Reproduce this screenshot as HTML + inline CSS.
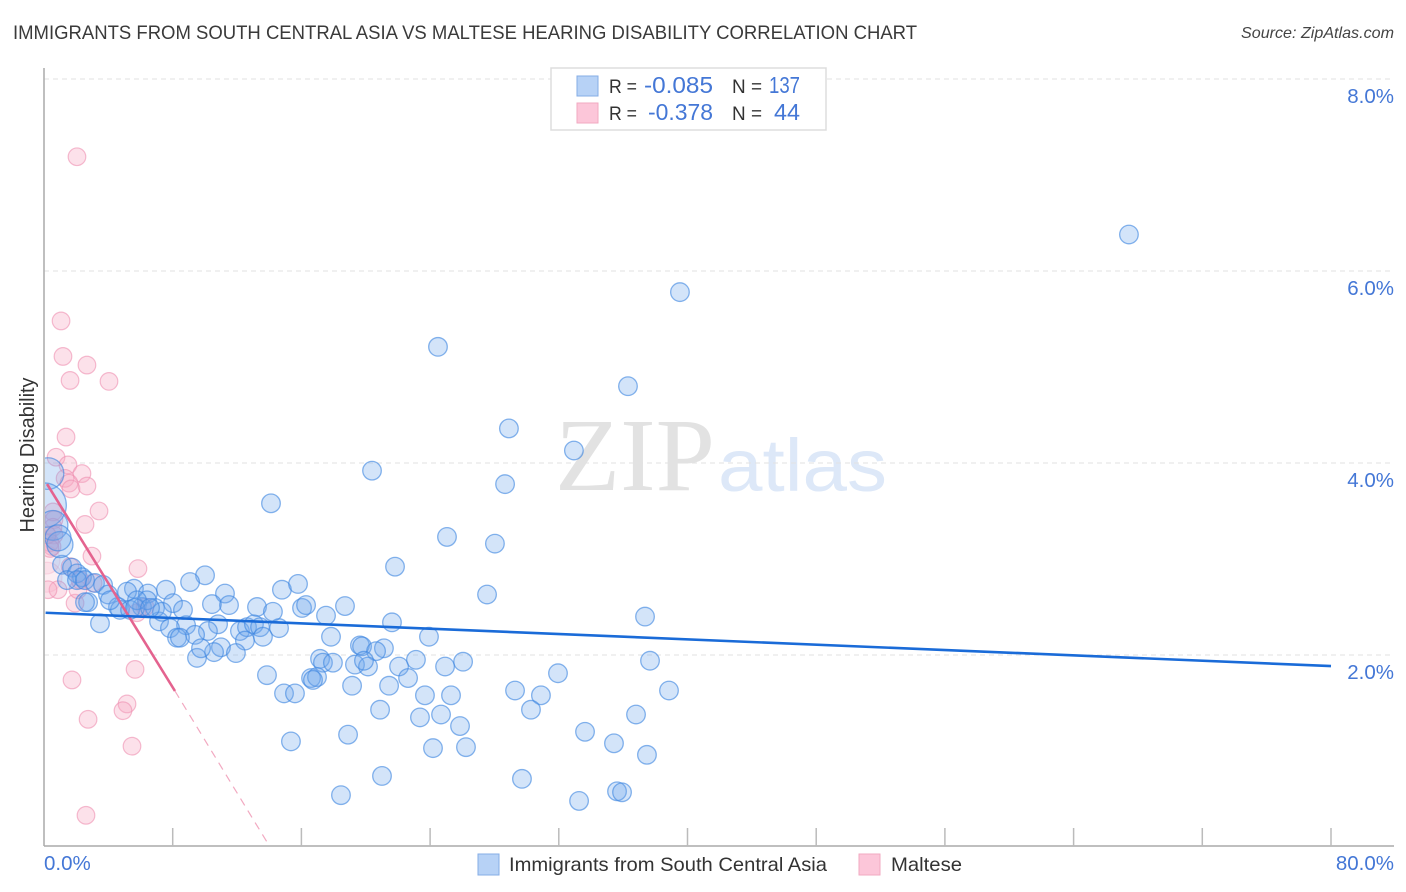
<!DOCTYPE html>
<html lang="en">
<head>
<meta charset="utf-8">
<title>Immigrants from South Central Asia vs Maltese Hearing Disability Correlation Chart</title>
<style>
html,body{margin:0;padding:0;background:#fff;width:1406px;height:892px;overflow:hidden}
svg{display:block;font-family:"Liberation Sans",sans-serif}
</style>
</head>
<body>
<svg id="chart" xmlns="http://www.w3.org/2000/svg" width="1406" height="892" viewBox="0 0 1406 892">
  <defs><clipPath id="plot-clip"><rect x="45" y="60" width="1349" height="786"/></clipPath></defs>
  <text x="13" y="39" font-size="19.5" fill="#3a3a3a" textLength="904" lengthAdjust="spacingAndGlyphs">IMMIGRANTS FROM SOUTH CENTRAL ASIA VS MALTESE HEARING DISABILITY CORRELATION CHART</text>
  <text x="1241" y="38" font-size="16" font-style="italic" fill="#444" textLength="153" lengthAdjust="spacingAndGlyphs">Source: ZipAtlas.com</text>
  <text x="555" y="490" font-family="'Liberation Serif',serif" font-size="104" fill="#e2e2e2" textLength="160" lengthAdjust="spacingAndGlyphs">ZIP</text>
  <text x="718" y="491" font-size="74" fill="#dde8f8" textLength="169" lengthAdjust="spacingAndGlyphs">atlas</text>
  <g id="grid"></g>
  <g id="marks" clip-path="url(#plot-clip)"></g>
  <g id="axes"></g>
  <text transform="translate(34,455) rotate(-90)" font-size="20" fill="#333" text-anchor="middle" textLength="155" lengthAdjust="spacingAndGlyphs">Hearing Disability</text>

  <g>
    <rect x="551" y="68" width="275" height="62" fill="#fff" stroke="#ddd" stroke-width="1.5"/>
    <rect x="577" y="76" width="21" height="20" fill="#b7d2f6" stroke="#85ade6" stroke-width="1"/>
    <rect x="577" y="103" width="21" height="20" fill="#fcc6d9" stroke="#f2a9c1" stroke-width="1"/>
    <text x="609" y="93" font-size="19.5" fill="#333" textLength="28" lengthAdjust="spacingAndGlyphs">R =</text>
    <text x="644" y="93" font-size="23" fill="#4477d6" textLength="69" lengthAdjust="spacingAndGlyphs">-0.085</text>
    <text x="732" y="93" font-size="19.5" fill="#333" textLength="30" lengthAdjust="spacingAndGlyphs">N =</text>
    <text x="769" y="93" font-size="23" fill="#4477d6" textLength="31" lengthAdjust="spacingAndGlyphs">137</text>
    <text x="609" y="120" font-size="19.5" fill="#333" textLength="28" lengthAdjust="spacingAndGlyphs">R =</text>
    <text x="648" y="120" font-size="23" fill="#4477d6" textLength="65" lengthAdjust="spacingAndGlyphs">-0.378</text>
    <text x="732" y="120" font-size="19.5" fill="#333" textLength="30" lengthAdjust="spacingAndGlyphs">N =</text>
    <text x="774" y="120" font-size="23" fill="#4477d6" textLength="26" lengthAdjust="spacingAndGlyphs">44</text>
  </g>

  <g>
    <rect x="478" y="854" width="21" height="21" fill="#b7d2f6" stroke="#85ade6" stroke-width="1"/>
    <text x="509" y="871" font-size="19.5" fill="#333" textLength="318" lengthAdjust="spacingAndGlyphs">Immigrants from South Central Asia</text>
    <rect x="859" y="854" width="21" height="21" fill="#fcc6d9" stroke="#f2a9c1" stroke-width="1"/>
    <text x="891" y="871" font-size="19.5" fill="#333" textLength="71" lengthAdjust="spacingAndGlyphs">Maltese</text>
  </g>
</svg>
<script>
const yTicks = [2, 4, 6, 8];
const yTickLabels = ["2.0%", "4.0%", "6.0%", "8.0%"];
const xTicks = [0, 8, 16, 24, 32, 40, 48, 56, 64, 72, 80];
const xEndLabels = ["0.0%", "80.0%"];
const blueTrend = [[0.1, 2.44], [80, 1.885]];
const pinkTrendSolid = [[0.19, 3.78], [8.14, 1.625]];
const pinkTrendDashed = [[8.14, 1.625], [14.05, 0.0]];
const bluePoints = [
[67.44,6.38],[39.53,5.78],[24.49,5.21],[36.30,4.80],[28.90,4.36],[32.94,4.13],[20.39,3.92],[28.66,3.78],[14.11,3.58],[25.05,3.23],[28.03,3.16],[21.82,2.92],[27.54,2.63],[37.36,2.40],
[10.01,2.83],[9.08,2.76],[11.25,2.64],[14.79,2.68],[15.79,2.74],[10.44,2.53],[11.50,2.52],[13.24,2.50],[16.04,2.49],[16.29,2.52],[18.71,2.51],[14.23,2.45],[17.53,2.41],[21.63,2.34],[14.61,2.28],
[7.58,2.68],[5.59,2.69],[5.16,2.66],[6.46,2.64],[8.02,2.54],[8.64,2.47],[7.15,2.35],[8.83,2.31],[10.82,2.32],[7.83,2.28],[10.19,2.25],[9.39,2.21],[8.27,2.18],[8.45,2.18],[12.18,2.25],[12.62,2.29],[13.05,2.32],[13.43,2.29],[13.61,2.19],[12.49,2.15],[17.84,2.19],[23.93,2.19],[11.00,2.08],[11.93,2.02],[10.57,2.03],[9.51,1.97],[9.76,2.07],
[19.64,2.10],[19.77,2.09],[21.13,2.07],[20.64,2.04],[17.16,1.96],[17.34,1.92],[17.96,1.92],[19.33,1.90],[20.14,1.88],[19.89,1.94],[23.12,1.95],[22.07,1.88],[26.05,1.93],[24.93,1.88],[37.67,1.94],[31.95,1.81],[13.86,1.79],[16.60,1.76],[16.97,1.77],[16.72,1.74],[22.63,1.76],[19.15,1.68],[21.45,1.68],[14.92,1.60],[15.60,1.60],[23.68,1.58],[25.30,1.58],[29.28,1.63],[30.89,1.58],[38.85,1.63],[30.27,1.43],[20.89,1.43],[23.37,1.35],[24.68,1.38],[36.80,1.38],[25.86,1.26],[33.63,1.20],[15.35,1.10],[18.90,1.17],[35.43,1.08],[24.18,1.03],[26.23,1.04],[37.48,0.96],[21.01,0.74],[29.71,0.71],[18.46,0.54],[33.26,0.48],[35.62,0.58],[35.93,0.57],
[1.12,2.94],[1.74,2.91],[2.05,2.85],[2.36,2.81],[1.43,2.78],[2.05,2.78],[2.55,2.78],[3.17,2.75],[3.67,2.73],[3.98,2.63],[2.74,2.55],[2.55,2.55],[3.48,2.33],[4.60,2.50],[4.72,2.47],[4.10,2.57],[6.09,2.50],[6.90,2.49],[6.40,2.57],[7.33,2.45],[5.35,2.47],[5.78,2.57],[5.66,2.49],[6.59,2.49],
[0.25,3.89,1.7],[0.00,3.56,2.4],[0.56,3.35,1.6],[0.99,3.15,1.4],[0.87,3.22,1.4]
];
const pinkPoints = [
[2.05,7.19],[1.06,5.48],[1.18,5.11],[2.67,5.02],[1.62,4.86],[4.04,4.85],[1.37,4.27],[0.75,4.06],[1.49,3.98],[2.36,3.89],[1.31,3.84],[1.55,3.79],[1.68,3.73],[2.67,3.76],[3.42,3.50],[2.55,3.36],[0.56,3.49],[0.62,3.41],[0.56,3.33],[0.62,3.25],[0.37,3.17],[0.50,3.13],[2.98,3.03],[5.84,2.90],[0.12,2.99,1.6],[0.19,2.81,1.7],[1.62,2.92],[0.87,2.68],[1.93,2.54],[2.11,2.68],[3.05,2.75],[2.24,2.78],[6.28,2.50],[5.78,2.44],[5.66,1.85],[1.74,1.74],[5.16,1.49],[4.91,1.42],[2.74,1.33],[5.47,1.05],[2.61,0.33],[0.37,3.11],[0.19,3.25],[0.25,2.68]
];

const NS = 'http://www.w3.org/2000/svg';
const xScale = v => 44 + v * 16.0875;
const yScale = v => 847 - v * 96;
const gridLayer = document.getElementById('grid');
const axesLayer = document.getElementById('axes');
const marksLayer = document.getElementById('marks');

function make(tag, attrs, parent) {
  const el = document.createElementNS(NS, tag);
  for (const k in attrs) el.setAttribute(k, attrs[k]);
  parent.appendChild(el);
  return el;
}

yTicks.forEach((t, i) => {
  const line = make('line', {x1: 44, x2: 1394, y1: yScale(t), y2: yScale(t), stroke: '#e2e2e2', 'stroke-width': 1, 'stroke-dasharray': '5 4'}, gridLayer);
  
  
  const label = make('text', {x: 1394, y: yScale(t) + 24, 'font-size': 20.5, fill: '#4477d6', 'text-anchor': 'end'}, axesLayer);
  
  
  label.textContent = yTickLabels[i];
});

const yAxis = make('line', {x1: 44, x2: 44, y1: 68, y2: 846, stroke: '#aaa', 'stroke-width': 1.5}, axesLayer);


const xAxis = make('line', {x1: 44, x2: 1394, y1: 846, y2: 846, stroke: '#aaa', 'stroke-width': 1.5}, axesLayer);



xTicks.slice(1).forEach(t => {
  const tick = make('line', {x1: xScale(t), x2: xScale(t), y1: 828, y2: 846, stroke: '#bbb', 'stroke-width': 1.5}, axesLayer);
  
  
});

const xLabelLeft = make('text', {x: xScale(xTicks[0]), y: 870, 'font-size': 20.5, fill: '#4477d6'}, axesLayer);


xLabelLeft.textContent = xEndLabels[0];
const xLabelRight = make('text', {x: 1394, y: 870, 'font-size': 20.5, fill: '#4477d6', 'text-anchor': 'end'}, axesLayer);


xLabelRight.textContent = xEndLabels[1];

pinkPoints.forEach(p => {
  const c = make('circle', {cx: xScale(p[0]), cy: yScale(p[1]), r: 8.8 * (p[2] || 1), fill: '#f7a8c2', 'fill-opacity': p[2] ? 0.2 : 0.34, stroke: '#ee8fb0', 'stroke-opacity': p[2] ? 0.25 : 0.6, 'stroke-width': 1.2}, marksLayer);
  
  
});

bluePoints.forEach(p => {
  const c = make('circle', {cx: xScale(p[0]), cy: yScale(p[1]), r: 9.3 * (p[2] || 1), fill: '#6ea6ec', 'fill-opacity': 0.3, stroke: '#3d86e0', 'stroke-opacity': 0.62, 'stroke-width': 1.3}, marksLayer);
  
  
});

function trend(points, color, width, dash) {
  const attrs = {x1: xScale(points[0][0]), y1: yScale(points[0][1]), x2: xScale(points[1][0]), y2: yScale(points[1][1]), stroke: color, 'stroke-width': width};
  if (dash) attrs['stroke-dasharray'] = dash;
  return make('line', attrs, marksLayer);
}
const dashedLine = trend(pinkTrendDashed, '#f2a9c1', 1.2, '8 6');


const pinkLine = trend(pinkTrendSolid, '#e4638f', 2.6);


const blueLine = trend(blueTrend, '#1a6bd8', 2.6);


</script>
</body>
</html>
